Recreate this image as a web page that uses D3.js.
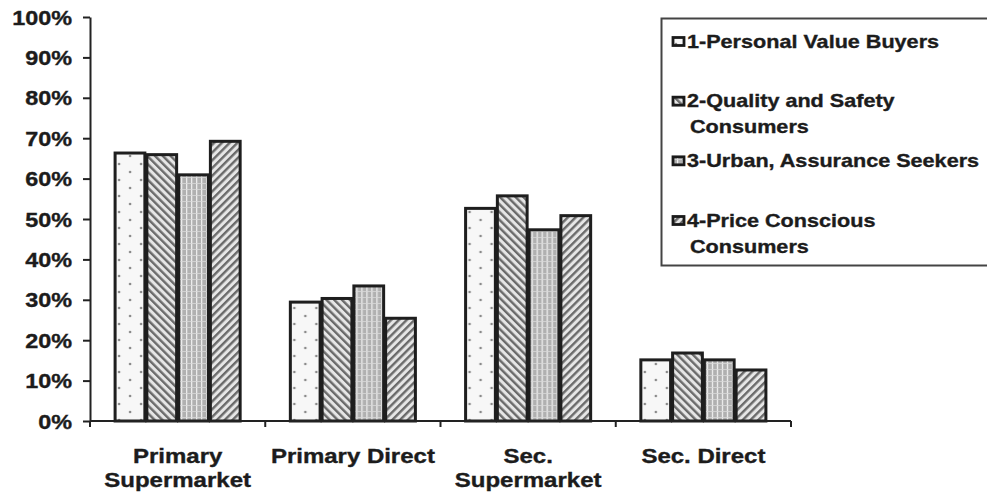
<!DOCTYPE html>
<html>
<head>
<meta charset="utf-8">
<script src="https://cdn.jsdelivr.net/npm/d3@7"></script>
<style>
  html, body { margin: 0; padding: 0; background: #fff; }
  svg { display: block; }
  text { font-family: "Liberation Sans", Arial, sans-serif; font-weight: bold; fill: #1c1c1c; stroke: #1c1c1c; stroke-width: 0.35px; }
</style>
</head>
<body>
<svg id="chart" width="987" height="493"></svg>
<script>
// Shopping channel shares by consumer segment
const categories = ["Primary Supermarket", "Primary Direct", "Sec. Supermarket", "Sec. Direct"];
const categoryLines = [["Primary", "Supermarket"], ["Primary Direct"], ["Sec.", "Supermarket"], ["Sec. Direct"]];
const series = ["1-Personal Value Buyers", "2-Quality and Safety Consumers", "3-Urban, Assurance Seekers", "4-Price Conscious Consumers"];
const seriesLines = [["1-Personal Value Buyers"], ["2-Quality and Safety", "Consumers"], ["3-Urban, Assurance Seekers"], ["4-Price Conscious", "Consumers"]];
const personalValue = [0.667, 0.298, 0.530, 0.155];
const qualitySafety = [0.663, 0.307, 0.561, 0.172];
const urbanAssurance = [0.613, 0.338, 0.477, 0.155];
const priceConscious = [0.696, 0.258, 0.512, 0.130];
const yTicks = [0, 0.1, 0.2, 0.3, 0.4, 0.5, 0.6, 0.7, 0.8, 0.9, 1.0];

const seriesValues = [personalValue, qualitySafety, urbanAssurance, priceConscious];
const fills = ["url(#pDots)", "url(#pDown)", "url(#pGrid)", "url(#pUp)"];
const SX = 1.2; // horizontal stretch applied to the bold labels

const svg = d3.select("#chart");
const defs = svg.append("defs");

// dotted fill
const pd = defs.append("pattern").attr("id", "pDots").attr("patternUnits", "userSpaceOnUse")
  .attr("width", 22).attr("height", 16);
pd.append("rect").attr("width", 22).attr("height", 16).attr("fill", "#f7f7f7");
pd.append("circle").attr("cx", 5).attr("cy", 4).attr("r", 1.3).attr("fill", "#8a8a8a");
pd.append("circle").attr("cx", 16).attr("cy", 12).attr("r", 1.3).attr("fill", "#8a8a8a");

// diagonal stripes
function stripes(id, angle) {
  const p = defs.append("pattern").attr("id", id).attr("patternUnits", "userSpaceOnUse")
    .attr("width", 5.5).attr("height", 6).attr("patternTransform", `rotate(${angle})`);
  p.append("rect").attr("width", 5.5).attr("height", 6).attr("fill", "#e6e6e6");
  p.append("rect").attr("width", 2.4).attr("height", 6).attr("fill", "#6a6a6a");
}
stripes("pDown", -45);
stripes("pUp", 45);

// fine grid
const pg = defs.append("pattern").attr("id", "pGrid").attr("patternUnits", "userSpaceOnUse")
  .attr("width", 5).attr("height", 6);
pg.append("rect").attr("width", 5).attr("height", 6).attr("fill", "#b0b0b0");
pg.append("rect").attr("x", 2).attr("width", 1.2).attr("height", 6).attr("fill", "#f2f2f2");
pg.append("rect").attr("y", 3).attr("width", 5).attr("height", 0.8).attr("fill", "#d8d8d8");

const plotLeft = 90, plotRight = 791, plotTop = 17, plotBottom = 421;

const y = d3.scaleLinear().domain([0, 1]).range([plotBottom, plotTop]);
const gapRatio = 0.275;
const x = d3.scaleBand().domain(categories).range([plotLeft, plotRight])
  .paddingInner(gapRatio).paddingOuter(gapRatio / 2);
const xs = d3.scaleBand().domain(series).range([0, x.bandwidth()]);

function stretchText(sel, tx, ty, anchor) {
  sel.attr("text-anchor", anchor).attr("x", 0).attr("y", 0)
    .attr("transform", `translate(${tx},${ty}) scale(${SX},1)`);
}

// bars
const groups = svg.append("g").selectAll("g").data(categories).join("g")
  .attr("transform", d => `translate(${x(d)},0)`);
groups.selectAll("rect")
  .data((c, ci) => series.map((s, si) => ({ s, si, v: seriesValues[si][ci] })))
  .join("rect")
  .attr("x", d => xs(d.s) + 1)
  .attr("y", d => y(d.v) + 1.5)
  .attr("width", xs.bandwidth() - 2)
  .attr("height", d => y(0) - y(d.v) - 1.5)
  .attr("fill", d => fills[d.si])
  .attr("stroke", "#1e1e1e")
  .attr("stroke-width", 3);

// y axis
const yAxis = svg.append("g").attr("transform", `translate(${plotLeft},0)`)
  .call(d3.axisLeft(y).tickValues(yTicks).tickFormat(d3.format(".0%")).tickSize(7).tickSizeOuter(0));
yAxis.select(".domain").attr("stroke", "#222").attr("stroke-width", 2);
yAxis.selectAll(".tick line").attr("stroke", "#222").attr("stroke-width", 2);
yAxis.selectAll(".tick text").attr("font-size", 19.5).attr("dy", null).attr("fill", "#1c1c1c").each(function () {
  stretchText(d3.select(this), -18, 7, "end");
});

// x axis with ticks on category boundaries
const step = x.step();
const boundaries = [plotLeft].concat(categories.map(c => x(c) + x.bandwidth() + step * gapRatio / 2));
const xAxis = svg.append("g");
xAxis.append("line").attr("x1", plotLeft).attr("x2", boundaries[boundaries.length - 1])
  .attr("y1", plotBottom).attr("y2", plotBottom).attr("stroke", "#222").attr("stroke-width", 2);
xAxis.selectAll("line.b").data(boundaries).join("line").attr("class", "b")
  .attr("x1", d => d).attr("x2", d => d)
  .attr("y1", plotBottom).attr("y2", plotBottom + 6)
  .attr("stroke", "#222").attr("stroke-width", 2);

// category labels
const labels = svg.append("g").selectAll("g").data(categories).join("g");
labels.each(function (c, ci) {
  const cx = x(c) + x.bandwidth() / 2;
  d3.select(this).selectAll("text").data(categoryLines[ci]).join("text")
    .attr("font-size", 20).text(d => d)
    .each(function (d, li) { stretchText(d3.select(this), cx, 463 + li * 24, "middle"); });
});

// legend
const legend = svg.append("g");
legend.append("rect").attr("x", 661.5).attr("y", 18.5).attr("width", 340).attr("height", 247)
  .attr("fill", "#fff").attr("stroke", "#444").attr("stroke-width", 2);
const ly = d3.scalePoint().domain(series).range([41, 220]);
series.forEach((s, si) => {
  const cy = ly(s);
  legend.append("rect").attr("x", 673).attr("y", cy - 3.5).attr("width", 11).attr("height", 8)
    .attr("fill", fills[si]).attr("stroke", "#1a1a1a").attr("stroke-width", 2.8);
  seriesLines[si].forEach((line, li) => {
    const t = legend.append("text").attr("font-size", 18).text(line);
    stretchText(t, li ? 690 : 687, cy + 6.5 + li * 26, "start");
  });
});
</script>
</body>
</html>
